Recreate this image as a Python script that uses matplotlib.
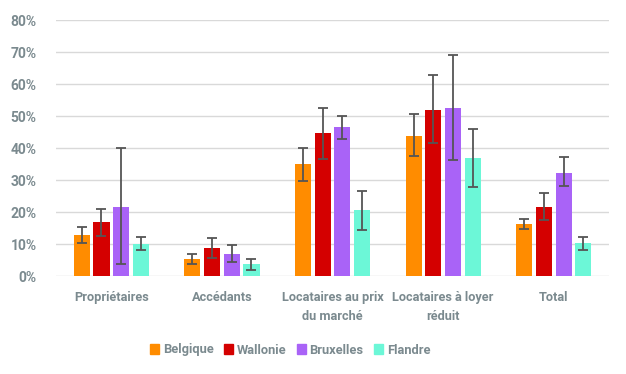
import matplotlib.pyplot as plt
import numpy as np
from matplotlib.patches import Patch
from matplotlib.ticker import PercentFormatter

categories = ['Propriétaires', 'Accédants', 'Locataires au prix\ndu marché',
              'Locataires à loyer\nréduit', 'Total']
regions = ['Belgique', 'Wallonie', 'Bruxelles', 'Flandre']

# share (%), lower and upper bound of the confidence interval, per region
belgique = [12.7, 5.4, 34.9, 43.7, 16.4]
belgique_lo = [10.4, 3.9, 29.7, 37.5, 14.7]
belgique_hi = [15.3, 7.0, 40.0, 50.6, 17.7]

wallonie = [16.9, 8.7, 44.6, 51.9, 21.6]
wallonie_lo = [12.5, 5.6, 36.7, 41.6, 17.4]
wallonie_hi = [20.8, 11.8, 52.6, 62.8, 26.0]

bruxelles = [21.7, 7.0, 46.6, 52.4, 32.3]
bruxelles_lo = [3.6, 4.4, 42.9, 36.2, 28.2]
bruxelles_hi = [40.0, 9.7, 50.1, 69.0, 37.1]

flandre = [9.9, 3.7, 20.5, 36.8, 10.2]
flandre_lo = [8.0, 2.0, 14.3, 27.7, 8.0]
flandre_hi = [12.2, 5.3, 26.5, 46.0, 12.1]

colors = ['#FF8C00', '#D40000', '#A963F7', '#6CF7D7']
text_col = '#7B8A8F'

plt.rcParams['font.family'] = ['Roboto', 'DejaVu Sans']
plt.rcParams['font.weight'] = 'bold'

fig = plt.figure(figsize=(6.26, 3.74), dpi=100)
ax = fig.add_axes([0.0895, 0.262, 0.8835, 0.6845])

series = [(belgique, belgique_lo, belgique_hi),
          (wallonie, wallonie_lo, wallonie_hi),
          (bruxelles, bruxelles_lo, bruxelles_hi),
          (flandre, flandre_lo, flandre_hi)]

x = np.arange(len(categories))
step = 0.178
width = 0.145
for i, (vals, lo, hi) in enumerate(series):
    v = np.array(vals)
    yerr = [v - np.array(lo), np.array(hi) - v]
    ax.bar(x + (i - 1.5) * step, v, width, color=colors[i], zorder=2,
           yerr=yerr, capsize=3.5,
           error_kw=dict(ecolor='#555555', elinewidth=1.3, capthick=1.3))

ax.set_xlim(-0.5, len(categories) - 0.5)
ax.set_ylim(0, 80)
ax.set_yticks(np.arange(0, 81, 10))
ax.yaxis.set_major_formatter(PercentFormatter(decimals=0))
ax.grid(axis='y', color='#D9D9D9', linewidth=1, zorder=0)
ax.set_axisbelow(True)
for s in ax.spines.values():
    s.set_visible(False)
ax.tick_params(length=0, labelcolor=text_col)
ax.tick_params(axis='y', pad=14, labelsize=10)
ax.tick_params(axis='x', pad=11, labelsize=9.2)
ax.set_xticks(x)
ax.set_xticklabels(categories, linespacing=1.55)

handles = [Patch(color=c, label=r) for c, r in zip(colors, regions)]
fig.legend(handles=handles, loc='center', bbox_to_anchor=(290 / 626, 1 - 350 / 374),
           ncol=4, frameon=False, handlelength=0.7, handleheight=0.7,
           handletextpad=0.3, columnspacing=0.8, labelcolor=text_col,
           prop=dict(size=9.3, weight='bold'))

fig.savefig('out.png', dpi=100)
